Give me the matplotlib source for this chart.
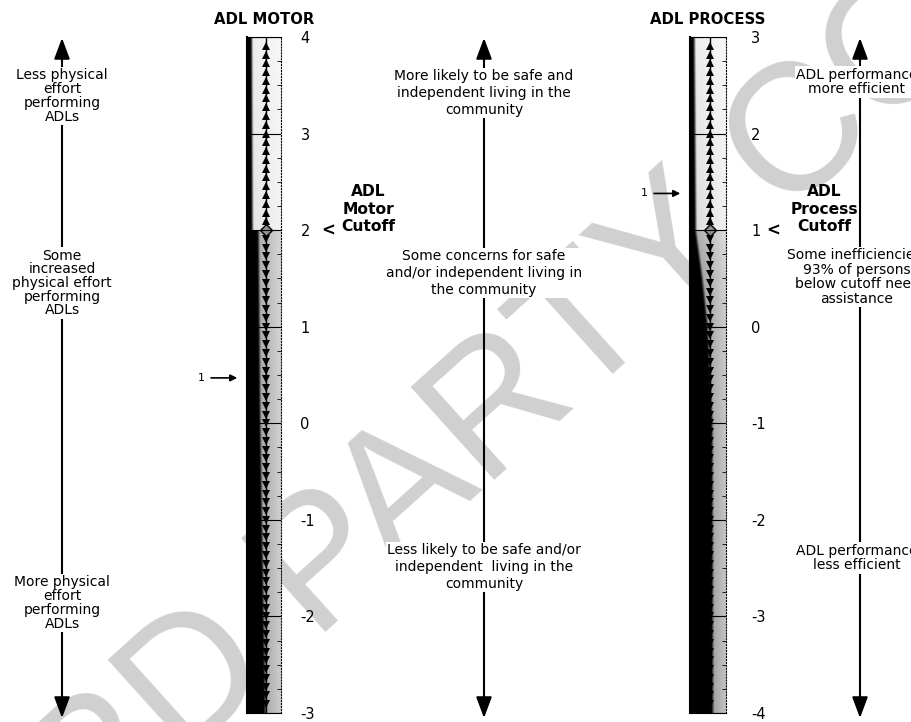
import numpy as np
import matplotlib.pyplot as plt

# ADL motor scale (logits)
motor_lo, motor_hi = -3, 4
motor_cutoff = 2.0
motor_measure = 0.47
motor_ticks = [4, 3, 2, 1, 0, -1, -2, -3]

# ADL process scale (logits)
process_lo, process_hi = -4, 3
process_cutoff = 1.0
process_measure = 1.38
process_ticks = [3, 2, 1, 0, -1, -2, -3, -4]

left_notes = ["Less physical\neffort\nperforming\nADLs",
              "Some\nincreased\nphysical effort\nperforming\nADLs",
              "More physical\neffort\nperforming\nADLs"]
mid_notes = ["More likely to be safe and\nindependent living in the\ncommunity",
             "Some concerns for safe\nand/or independent living in\nthe community",
             "Less likely to be safe and/or\nindependent  living in the\ncommunity"]
right_notes = ["ADL performance\nmore efficient",
               "Some inefficiencies;\n93% of persons\nbelow cutoff need\nassistance",
               "ADL performance\nless efficient"]

plt.rcParams['font.family'] = 'DejaVu Sans'
plt.rcParams['axes.unicode_minus'] = False
W, H = 911, 722
fig = plt.figure(figsize=(W / 100, H / 100), dpi=100)
bg = fig.add_axes([0, 0, 1, 1])
bg.set_xlim(0, W)
bg.set_ylim(H, 0)
bg.axis('off')

# watermark across the page
bg.text(556, 362, '3RD PARTY COPY', rotation=42, rotation_mode='anchor',
        ha='center', va='center', fontsize=130, family='Liberation Sans',
        color='#d0d0d0', zorder=0)

# long double arrows
for x in [62, 484, 860]:
    bg.annotate('', xy=(x, 38), xytext=(x, 718),
                arrowprops=dict(arrowstyle='<|-|>,head_length=0.8,head_width=0.3',
                                color='k', lw=1.5, mutation_scale=16,
                                shrinkA=0, shrinkB=0), zorder=1)

box = dict(facecolor='white', edgecolor='none', pad=1)
for txt, y in zip(left_notes, [96, 283, 603]):
    bg.text(62, y, txt, ha='center', va='center', fontsize=10, linespacing=0.97,
            bbox=box, zorder=2)
for txt, y in zip(mid_notes, [93, 273, 567]):
    bg.text(484, y, txt, ha='center', va='center', fontsize=10, linespacing=1.25,
            bbox=box, zorder=2)
for txt, y in zip(right_notes, [82, 277, 558]):
    bg.text(857, y, txt, ha='center', va='center', fontsize=10, linespacing=1.04,
            bbox=box, zorder=2)


def scale_bar(left, width, lo, hi, cutoff, measure, ticks, title, shade,
              label_pad, cut_label, cut_dx):
    ax = fig.add_axes([left / W, 1 - 713 / H, width / W, (713 - 37) / H])
    xx = np.linspace(0, 1, 80)
    yy = np.linspace(lo, hi, 600)
    X, Y = np.meshgrid(xx, yy)
    xb = np.interp(Y, shade[0], shade[1])
    g = np.interp(Y, shade[0], shade[2])
    edge = np.clip((xb + 0.08 - X) / 0.08, 0, 1)
    d = edge + (1 - edge) * g * (1 - 0.6 * X)
    ax.imshow(1 - d, cmap='gray', vmin=0, vmax=1, extent=[0, 1, lo, hi],
              origin='lower', aspect='auto', interpolation='bilinear')

    xc = 0.55
    step = 1 / 11
    ax.plot([xc, xc], [lo, hi], color='k', lw=1)
    ups = np.arange(cutoff + step, hi, step)
    downs = np.arange(cutoff - step, lo, -step)
    ax.plot(np.full(len(ups), xc), ups, '^', color='k', ms=6, mew=0)
    ax.plot(np.full(len(downs), xc), downs, 'v', color='k', ms=6, mew=0)
    ax.plot([xc], [cutoff], 'D', mfc='#909090', mec='k', ms=6, mew=1)

    ax.hlines(ticks, 0, 1, color='k', lw=0.8)
    ax.set_xlim(0, 1)
    ax.set_ylim(lo, hi)
    ax.set_xticks([])
    ax.set_yticks(ticks)
    ax.set_yticks(np.arange(lo, hi, 0.25), minor=True)
    ax.yaxis.tick_right()
    ax.tick_params(axis='y', which='major', length=0, pad=label_pad, labelsize=10.5)
    ax.tick_params(axis='y', which='minor', direction='in', length=3, width=0.6)
    ax.spines['left'].set_linewidth(1.5)
    ax.spines['right'].set_linestyle(':')
    ax.spines['right'].set_linewidth(0.8)
    ax.spines['top'].set_linewidth(0.8)
    ax.set_title(title, fontsize=10.7, fontweight='bold', pad=9)

    ax.annotate('<', xy=(1, cutoff), xycoords=('axes fraction', 'data'),
                xytext=(47, 0), textcoords='offset pixels', ha='center',
                va='center', fontsize=12, fontweight='bold')
    ax.annotate(cut_label, xy=(1, cutoff), xycoords=('axes fraction', 'data'),
                xytext=(cut_dx, 21), textcoords='offset pixels', ha='center',
                va='center', fontsize=11.2, fontweight='bold', linespacing=1.22)

    ax.annotate('', xy=(0, measure), xycoords=('axes fraction', 'data'),
                xytext=(-36, 0), textcoords='offset pixels',
                arrowprops=dict(arrowstyle='-|>', color='k', lw=1.2,
                                shrinkA=0, shrinkB=7))
    ax.annotate('1', xy=(0, measure), xycoords=('axes fraction', 'data'),
                xytext=(-46, 0), textcoords='offset pixels', ha='center',
                va='center', fontsize=8)
    return ax


# shading: heights, width of the black band, grey level of the rest
scale_bar(247, 34, motor_lo, motor_hi, motor_cutoff, motor_measure, motor_ticks,
          'ADL MOTOR',
          ([-3, 0, 1.99, 2.0, 4], [0.5, 0.35, 0.3, 0.12, 0.1],
           [0.5, 0.45, 0.4, 0.12, 0.08]),
          14, 'ADL\nMotor\nCutoff', 87)
scale_bar(690, 36, process_lo, process_hi, process_cutoff, process_measure,
          process_ticks, 'ADL PROCESS',
          ([-4, -1, 0, 0.5, 0.99, 1.0, 3], [0.6, 0.58, 0.45, 0.3, 0.12, 0.12, 0.08],
           [0.6, 0.55, 0.5, 0.45, 0.35, 0.15, 0.08]),
          18, 'ADL\nProcess\nCutoff', 98)

fig.savefig('out.png', dpi=100)
